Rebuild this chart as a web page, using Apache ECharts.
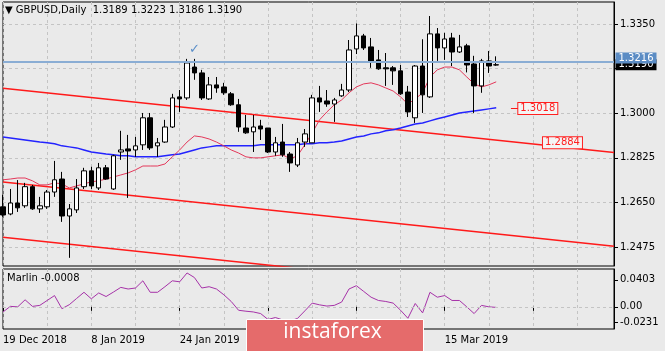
<!DOCTYPE html>
<html>
<head>
<meta charset="utf-8">
<script src="https://cdn.jsdelivr.net/npm/echarts@6/dist/echarts.min.js"></script>
<style>
html, body { margin: 0; padding: 0; background: #eaeaea; }
#chart { width: 665px; height: 351px; }
</style>
</head>
<body>
<div id="chart"></div>
<script>
// GBPUSD daily bars, 19 Dec 2018 .. 26 Mar 2019
const opens  = [1.2633,1.2605,1.2648,1.2637,1.2712,1.2625,1.2633,1.2691,1.2742,1.2597,1.2621,1.2712,1.2774,1.2707,1.2786,1.2703,1.2848,1.2860,1.2856,1.2876,1.2982,1.2872,1.2887,1.2946,1.3064,1.3060,1.3181,1.3158,1.3056,1.3111,1.3103,1.3076,1.3033,1.2942,1.2927,1.2950,1.2942,1.2848,1.2887,1.2840,1.2797,1.2887,1.2884,1.3060,1.3048,1.3036,1.3068,1.3091,1.3252,1.3303,1.3260,1.3209,1.3178,1.3178,1.3166,1.3083,1.2982,1.3185,1.3064,1.3311,1.3256,1.3295,1.3240,1.3264,1.3193,1.3107,1.3205,1.3189];
const highs  = [1.2680,1.2703,1.2738,1.2727,1.2719,1.2672,1.2699,1.2813,1.2770,1.2644,1.2742,1.2786,1.2790,1.2805,1.2797,1.2837,1.2931,1.2915,1.2907,1.3001,1.3001,1.2903,1.2974,1.3076,1.3091,1.3213,1.3213,1.3170,1.3142,1.3142,1.3119,1.3083,1.3056,1.2993,1.2993,1.2974,1.2942,1.2907,1.2958,1.2848,1.2903,1.2938,1.3072,1.3107,1.3091,1.3060,1.3115,1.3287,1.3352,1.3311,1.3295,1.3248,1.3236,1.3185,1.3189,1.3107,1.3189,1.3290,1.3381,1.3334,1.3315,1.3315,1.3307,1.3272,1.3225,1.3213,1.3244,1.3223];
const lows   = [1.2594,1.2600,1.2613,1.2629,1.2621,1.2609,1.2625,1.2672,1.2574,1.2433,1.2609,1.2703,1.2703,1.2699,1.2739,1.2699,1.2817,1.2668,1.2829,1.2856,1.2856,1.2829,1.2884,1.2942,1.3005,1.3052,1.3131,1.3052,1.3052,1.3080,1.3072,1.3029,1.2927,1.2919,1.2848,1.2895,1.2844,1.2833,1.2829,1.2770,1.2789,1.2868,1.2884,1.3005,1.3025,1.2966,1.3064,1.3083,1.3232,1.3248,1.3178,1.3170,1.3107,1.3111,1.3072,1.2985,1.2962,1.3001,1.3060,1.3205,1.3209,1.3185,1.3236,1.3160,1.3001,1.3080,1.3158,1.3186];
const closes = [1.2601,1.2648,1.2629,1.2712,1.2625,1.2637,1.2691,1.2739,1.2597,1.2625,1.2707,1.2774,1.2715,1.2786,1.2742,1.2833,1.2856,1.2852,1.2872,1.2982,1.2864,1.2884,1.2946,1.3060,1.3056,1.3197,1.3158,1.3060,1.3111,1.3099,1.3080,1.3033,1.2946,1.2923,1.2946,1.2938,1.2848,1.2884,1.2837,1.2805,1.2884,1.2919,1.3060,1.3044,1.3036,1.3052,1.3091,1.3248,1.3303,1.3256,1.3201,1.3174,1.3174,1.3166,1.3076,1.3005,1.3185,1.3072,1.3311,1.3256,1.3291,1.3240,1.3260,1.3189,1.3107,1.3205,1.3185,1.3190];

// moving averages
const fastMA = [1.2739,1.2742,1.2746,1.2746,1.2735,1.2719,1.2719,1.2727,1.2723,1.2707,1.2715,1.2723,1.2731,1.2735,1.2742,1.2750,1.2758,1.2766,1.2778,1.2793,1.2793,1.2793,1.2801,1.2829,1.2856,1.2887,1.2911,1.2907,1.2899,1.2887,1.2872,1.2856,1.2844,1.2829,1.2825,1.2825,1.2829,1.2833,1.2837,1.2821,1.2833,1.2876,1.2923,1.2974,1.3005,1.3033,1.3052,1.3080,1.3103,1.3115,1.3119,1.3111,1.3099,1.3087,1.3064,1.3036,1.3056,1.3080,1.3142,1.3170,1.3181,1.3181,1.3170,1.3142,1.3115,1.3103,1.3111,1.3123];
const slowMA = [1.2907,1.2903,1.2899,1.2895,1.2891,1.2887,1.2884,1.2880,1.2872,1.2868,1.2864,1.2856,1.2848,1.2844,1.2840,1.2837,1.2833,1.2833,1.2829,1.2829,1.2829,1.2829,1.2833,1.2837,1.2840,1.2848,1.2856,1.2864,1.2868,1.2872,1.2872,1.2872,1.2872,1.2872,1.2872,1.2876,1.2876,1.2876,1.2876,1.2876,1.2876,1.2880,1.2880,1.2884,1.2884,1.2887,1.2891,1.2899,1.2907,1.2911,1.2919,1.2923,1.2931,1.2935,1.2942,1.2950,1.2958,1.2962,1.2970,1.2978,1.2985,1.2993,1.3001,1.3005,1.3009,1.3013,1.3017,1.3021];

// Marlin oscillator
const marlin = [-0.0076,0.0007,0.0000,0.0105,0.0007,0.0022,0.0095,0.0168,-0.0027,0.0032,0.0125,0.0217,0.0120,0.0207,0.0154,0.0220,0.0290,0.0266,0.0281,0.0388,0.0217,0.0217,0.0300,0.0388,0.0373,0.0505,0.0437,0.0281,0.0300,0.0266,0.0180,0.0080,-0.0051,-0.0065,-0.0076,-0.0100,-0.0188,-0.0159,-0.0195,-0.0210,-0.0173,-0.0060,0.0056,0.0030,0.0012,0.0022,0.0071,0.0266,0.0315,0.0230,0.0144,0.0095,0.0080,0.0056,-0.0050,-0.0170,0.0050,-0.0090,0.0217,0.0144,0.0168,0.0095,0.0095,0.0000,-0.0100,0.0022,0.0000,-0.0008];

// descending channel, price at first and last slot
const channelTop = [1.3098, 1.2846];
const channelMid = [1.2730, 1.2478];
const channelLow = [1.2514, 1.2262];

const priceTicks = [1.2475, 1.2650, 1.2825, 1.3000, 1.3175, 1.3350];
const priceLabels = [1.2475, 1.2650, 1.2825, 1.3000, 1.3350];
const marlinTicks = [-0.0231, 0, 0.0403];
const lastPrice = 1.3216;
const bidPrice = 1.3190;
const maLevel = 1.3018;
const channelLevel = 1.2884;

// trading days, Christmas and New Year skipped
const months = ['Jan','Feb','Mar','Apr','May','Jun','Jul','Aug','Sep','Oct','Nov','Dec'];
const holidays = ['2018-12-25', '2019-01-01'];
const dates = [];
for (let d = new Date(Date.UTC(2018, 11, 19)); dates.length < closes.length; d.setUTCDate(d.getUTCDate() + 1)) {
    const wd = d.getUTCDay();
    if (wd === 0 || wd === 6 || holidays.includes(d.toISOString().slice(0, 10))) continue;
    dates.push(d.getUTCDate() + ' ' + months[d.getUTCMonth()] + ' ' + d.getUTCFullYear());
}
const emptySlots = 16;
const categories = dates.concat(Array(emptySlots).fill(''));
const lastSlot = categories.length - 1;

const candles = opens.map((o, i) => [o, closes[i], lows[i], highs[i]]);
const font = 'DejaVu Sans';
const dash = { color: '#c4c4c4', type: [3, 3], width: 1 };
// price tag sitting just right of the plot, on the axis
const priceTag = (price, fg, bg) => ({
    coord: [lastSlot, price],
    label: { show: true, position: 'right', distance: 1, formatter: price.toFixed(4),
             color: fg, backgroundColor: bg, fontSize: 10, fontFamily: font, padding: [1, 3, 0, 3] }
});
const boxStyle = { color: '#ff2020', fontSize: 10, fontFamily: font, backgroundColor: '#f4f4f4',
                   borderColor: '#ff2020', borderWidth: 1, padding: [1, 2, 0, 2] };
const hidden = { silent: true, symbol: 'rect', symbolSize: 1, itemStyle: { color: 'rgba(0,0,0,0)' } };

const chart = echarts.init(document.getElementById('chart'));
chart.setOption({
    animation: false,
    backgroundColor: '#eaeaea',
    textStyle: { fontFamily: font },
    title: [
        { text: '\u25BC GBPUSD,Daily  1.3189 1.3223 1.3186 1.3190', left: 5, top: 5, padding: 0,
          textStyle: { fontSize: 10, fontWeight: 'normal', color: '#000', fontFamily: font } },
        { text: 'Marlin -0.0008', left: 7, top: 273, padding: 0,
          textStyle: { fontSize: 10, fontWeight: 'normal', color: '#000', fontFamily: font } }
    ],
    grid: [
        { left: 3, right: 51, top: 2, bottom: 85, show: true, borderColor: '#000', borderWidth: 1 },
        { left: 3, right: 51, top: 269, bottom: 22, show: true, borderColor: '#000', borderWidth: 1 }
    ],
    xAxis: [
        { type: 'category', gridIndex: 0, data: categories, boundaryGap: false,
          axisLine: { show: false }, axisTick: { show: false }, axisLabel: { show: false },
          splitLine: { show: true, interval: 5, lineStyle: dash } },
        { type: 'category', gridIndex: 1, data: categories, boundaryGap: false,
          axisLine: { show: false },
          axisTick: { show: true, interval: 11, length: 4, lineStyle: { color: '#000' } },
          axisLabel: { show: true, interval: 11, align: 'left', margin: 6, fontSize: 10, color: '#000', fontFamily: font },
          splitLine: { show: true, interval: 5, lineStyle: dash } }
    ],
    yAxis: [
        { type: 'value', gridIndex: 0, position: 'right', min: 1.2401, max: 1.3436,
          axisLine: { show: true, lineStyle: { color: '#000' } },
          axisTick: { show: true, length: 4, customValues: priceTicks, lineStyle: { color: '#000' } },
          axisLabel: { customValues: priceLabels, formatter: v => v.toFixed(4), margin: 6, fontSize: 10, color: '#000', fontFamily: font },
          splitLine: { show: true, lineStyle: dash } },
        { type: 'value', gridIndex: 1, position: 'right', min: -0.0330, max: 0.0564,
          axisLine: { show: true, lineStyle: { color: '#000' } },
          axisTick: { show: true, length: 4, customValues: marlinTicks, lineStyle: { color: '#000' } },
          axisLabel: { customValues: marlinTicks, formatter: v => v === 0 ? '0.00' : v.toFixed(4), margin: 6, fontSize: 10, color: '#000', fontFamily: font },
          splitLine: { show: false } }
    ],
    series: [
        { name: 'chanTop', type: 'line', xAxisIndex: 0, yAxisIndex: 0, symbol: 'none', z: 1,
          data: [[0, channelTop[0]], [lastSlot, channelTop[1]]], lineStyle: { color: '#ff1a1a', width: 1.5 } },
        { name: 'chanMid', type: 'line', xAxisIndex: 0, yAxisIndex: 0, symbol: 'none', z: 1,
          data: [[0, channelMid[0]], [lastSlot, channelMid[1]]], lineStyle: { color: '#ff1a1a', width: 1.5 } },
        { name: 'chanLow', type: 'line', xAxisIndex: 0, yAxisIndex: 0, symbol: 'none', z: 1,
          data: [[0, channelLow[0]], [lastSlot, channelLow[1]]], lineStyle: { color: '#ff1a1a', width: 1.5 } },
        { name: 'slowMA', type: 'line', xAxisIndex: 0, yAxisIndex: 0, symbol: 'none', z: 2,
          data: slowMA, lineStyle: { color: '#2323ff', width: 1.5 },
          markLine: { silent: true, symbol: 'none',
            lineStyle: { color: '#ff1a1a', width: 1, type: 'solid' },
            label: Object.assign({ show: true, position: 'end', distance: 0, formatter: () => maLevel.toFixed(4) }, boxStyle),
            data: [[{ coord: [68.6, maLevel] }, { coord: [69.9, maLevel] }]] } },
        { name: 'fastMA', type: 'line', xAxisIndex: 0, yAxisIndex: 0, symbol: 'none', z: 2,
          data: fastMA, lineStyle: { color: '#e4385a', width: 1 },
          markLine: { silent: true, symbol: 'none', label: { show: false },
            data: [{ yAxis: bidPrice, lineStyle: { color: '#c6c6c6', width: 1, type: 'solid' } }] },
          markPoint: Object.assign({ data: [priceTag(bidPrice, '#ffffff', '#000000')] }, hidden) },
        { name: 'GBPUSD', type: 'candlestick', xAxisIndex: 0, yAxisIndex: 0, barWidth: 5, z: 3,
          data: candles,
          itemStyle: { color: '#ffffff', color0: '#000000', borderColor: '#000000', borderColor0: '#000000', borderWidth: 1 },
          markPoint: Object.assign({
            data: [
              { coord: [26, 1.3248], label: { show: true, position: 'inside', formatter: '\u2713', color: '#5b8fc9', fontSize: 13 } },
              { coord: [76.4, channelLevel], label: Object.assign({ show: true, position: 'inside', formatter: channelLevel.toFixed(4) }, boxStyle) },
              priceTag(lastPrice, '#ffffff', '#5b8cc4')
            ] }, hidden),
          markLine: { silent: true, symbol: 'none', label: { show: false },
            data: [{ yAxis: lastPrice, lineStyle: { color: '#8aadd4', width: 2, type: 'solid' } }] } },
        { name: 'Marlin', type: 'line', xAxisIndex: 1, yAxisIndex: 1, symbol: 'none',
          data: marlin, lineStyle: { color: '#a632a8', width: 1 },
          markLine: { silent: true, symbol: 'none', label: { show: false },
            lineStyle: dash, data: [{ yAxis: 0 }] } }
    ],
    graphic: [
        { type: 'rect', left: 246, top: 319, z: 100, zlevel: 1,
          shape: { width: 177, height: 32 },
          style: { fill: '#e56b6b', stroke: '#ffffff', lineWidth: 1 } },
        { type: 'text', left: 'center', top: 322, z: 101, zlevel: 1,
          style: { text: 'instaforex', fill: '#ffffff', fontSize: 21, fontFamily: 'Open Sans' } }
    ]
});
</script>
</body>
</html>
